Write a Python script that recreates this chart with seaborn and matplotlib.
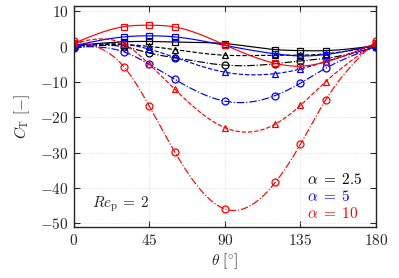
import numpy as np
import pandas as pd
import seaborn as sns
import matplotlib
matplotlib.use('Agg')
import matplotlib.pyplot as plt

# angles where the thrust coefficient was measured
theta = [0, 30, 45, 60, 90, 120, 135, 150, 180]

# alpha = 2.5 (black)
ct_a25_sq = [0.3, 1.4, 1.5, 1.3, 0.9, -0.8, -1.1, -1.1, 0.3]
ct_a25_tri = [0.2, 0.6, 0.1, -0.8, -2.4, -2.4, -2.4, -2.0, 0.2]
ct_a25_circ = [-0.4, 0.0, -1.8, -3.1, -5.2, -4.8, -4.0, -3.3, 0.0]

# alpha = 5 (blue)
ct_a5_sq = [0.3, 2.8, 3.1, 2.8, 0.4, -2.0, -2.6, -2.2, 0.6]
ct_a5_tri = [0.2, 0.7, -0.7, -3.0, -7.2, -7.6, -6.3, -4.2, 0.0]
ct_a5_circ = [0.0, -1.5, -5.0, -9.2, -15.4, -13.8, -10.3, -6.1, 0.0]

# alpha = 10 (red)
ct_a10_sq = [1.0, 5.7, 6.1, 5.6, 0.5, -4.7, -5.5, -4.3, 1.0]
ct_a10_tri = [1.0, 0.7, -5.0, -12.0, -22.9, -21.9, -16.6, -9.9, 1.0]
ct_a10_circ = [1.6, -5.8, -16.9, -29.7, -45.9, -38.4, -27.6, -15.1, 1.6]

alpha_labels = [r'$\alpha\;=\;2.5$', r'$\alpha\;=\;5$', r'$\alpha\;=\;10$']
alpha_colors = ['black', 'blue', 'red']


def natural_spline(x, y, xs):
    # natural cubic spline so the curves run smoothly through the markers
    x = np.asarray(x, float)
    y = np.asarray(y, float)
    n = len(x)
    h = np.diff(x)
    A = np.zeros((n, n))
    b = np.zeros(n)
    A[0, 0] = A[-1, -1] = 1
    for i in range(1, n - 1):
        A[i, i - 1] = h[i - 1]
        A[i, i] = 2 * (h[i - 1] + h[i])
        A[i, i + 1] = h[i]
        b[i] = 6 * ((y[i + 1] - y[i]) / h[i] - (y[i] - y[i - 1]) / h[i - 1])
    M = np.linalg.solve(A, b)
    idx = np.clip(np.searchsorted(x, xs) - 1, 0, n - 2)
    x0, x1 = x[idx], x[idx + 1]
    hh = x1 - x0
    t0 = x1 - xs
    t1 = xs - x0
    return (M[idx] * t0**3 / (6 * hh) + M[idx + 1] * t1**3 / (6 * hh)
            + (y[idx] / hh - M[idx] * hh / 6) * t0
            + (y[idx + 1] / hh - M[idx + 1] * hh / 6) * t1)


sns.set_style('ticks')
plt.rcParams['font.family'] = ['DejaVu Serif']
plt.rcParams['mathtext.fontset'] = 'cm'

fig = plt.figure(figsize=(3.99, 2.78), dpi=100)
ax = fig.add_axes([0.1855, 0.1835, 0.7565, 0.7945])

series = [
    (ct_a25_sq, 'black', 's', '-'), (ct_a25_tri, 'black', '^', '--'), (ct_a25_circ, 'black', 'o', '-.'),
    (ct_a5_sq, 'blue', 's', '-'), (ct_a5_tri, 'blue', '^', '--'), (ct_a5_circ, 'blue', 'o', '-.'),
    (ct_a10_sq, 'red', 's', '-'), (ct_a10_tri, 'red', '^', '--'), (ct_a10_circ, 'red', 'o', '-.'),
]

fine = np.linspace(0, 180, 361)
for vals, c, m, ls in series:
    sns.lineplot(x=fine, y=natural_spline(theta, vals, fine), color=c, linestyle=ls,
                 linewidth=0.85, estimator=None, sort=False, ax=ax)
    sns.lineplot(x=theta, y=vals, color=c, marker=m, markersize=5, markerfacecolor='none',
                 markeredgecolor=c, markeredgewidth=0.9, linestyle='none',
                 estimator=None, sort=False, ax=ax)

ax.set_xlim(0, 180)
ax.set_ylim(-51, 11.5)
xt = [0, 45, 90, 135, 180]
yt = [10, 0, -10, -20, -30, -40, -50]
ax.set_xticks(xt)
ax.set_xticklabels([f'${v}$' for v in xt], fontsize=11)
ax.set_yticks(yt)
ax.set_yticklabels([f'${v}$' for v in yt], fontsize=11)
ax.tick_params(direction='in', top=True, right=True, length=4, width=0.8, pad=4)
ax.grid(True, linestyle=':', color='#d9d9d9', linewidth=0.6)
for s in ax.spines.values():
    s.set_linewidth(1.0)

ax.set_xlabel(r'$\theta\ [^{\circ}]$', fontsize=11, labelpad=3)
ax.set_ylabel(r'$C_\mathrm{T}\ [-]$', fontsize=11, labelpad=6)

ax.text(10.5, -44.7, r'$Re_\mathrm{p}\,=\;2$', fontsize=11, va='center', ha='left')
for i, (lab, c) in enumerate(zip(alpha_labels, alpha_colors)):
    ax.text(139, -37.7 - i * 4.8, lab, color=c, fontsize=11, va='center', ha='left')

fig.savefig('out.png', dpi=100)
